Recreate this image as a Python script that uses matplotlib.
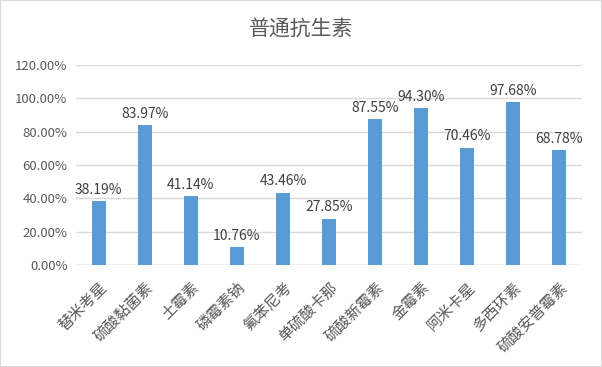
import matplotlib
matplotlib.use("Agg")
import matplotlib.pyplot as plt
from matplotlib.patches import Rectangle

plt.rcParams['font.family'] = ['Noto Sans CJK SC', 'DejaVu Sans']

categories = ['替米考星', '硫酸黏菌素', '土霉素', '磷霉素钠', '氟苯尼考', '单硫酸卡那',
              '硫酸新霉素', '金霉素', '阿米卡星', '多西环素', '硫酸安普霉素']
values = [38.19, 83.97, 41.14, 10.76, 43.46, 27.85, 87.55, 94.30, 70.46, 97.68, 68.78]
yticks = [0, 20, 40, 60, 80, 100, 120]

fig = plt.figure(figsize=(6.02, 3.67), dpi=100)
fig.patches.append(Rectangle((0, 0), 1, 1, transform=fig.transFigure, fill=False,
                             edgecolor='#D9D9D9', linewidth=1.5))
ax = fig.add_axes([0.126, 0.278, 0.841, 0.545])
x = list(range(len(categories)))
ax.bar(x, values, width=0.3, color='#5B9BD5', zorder=3)
for xi, v in zip(x, values):
    ax.text(xi, v + 2.5, f'{v:.2f}%', ha='center', va='bottom', fontsize=10, color='#404040')
ax.set_xlim(-0.5, len(categories) - 0.5)
ax.set_ylim(0, 120)
ax.set_yticks(yticks)
ax.set_yticklabels([f'{t:.2f}%' for t in yticks], fontsize=9.5, color='#595959')
ax.set_xticks(x)
ax.set_xticklabels(categories, rotation=45, ha='right', rotation_mode='anchor',
                   fontsize=11, color='#595959')
ax.tick_params(axis='y', length=0, pad=6)
ax.tick_params(axis='x', length=0, pad=10)
ax.grid(axis='y', color='#D9D9D9', linewidth=1, zorder=0)
for s in ax.spines.values():
    s.set_visible(False)
ax.axhline(0, color='#D9D9D9', linewidth=1, zorder=1)
fig.text(0.5, 0.922, '普通抗生素', ha='center', va='center', fontsize=15, color='#595959')
fig.savefig('out.png', dpi=100)
